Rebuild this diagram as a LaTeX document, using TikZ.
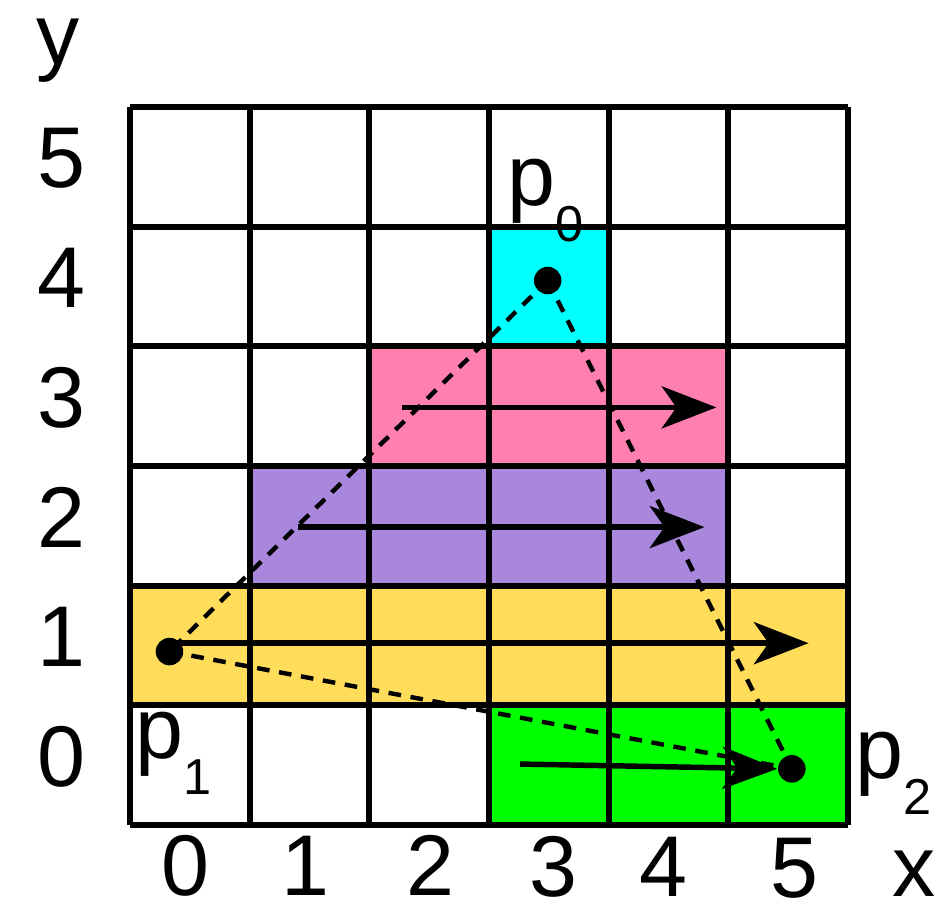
\documentclass[tikz,border=0pt]{standalone}
\usepackage{fontspec}
\setmainfont{Liberation Sans}
\usepackage{tikz}
\usetikzlibrary{arrows.meta, positioning}
\definecolor{cellcyan}{RGB}{0,255,255}
\definecolor{cellpink}{RGB}{255,128,176}
\definecolor{cellpurple}{RGB}{168,135,221}
\definecolor{cellyellow}{RGB}{255,220,90}
\definecolor{cellgreen}{RGB}{0,255,0}
\newcommand{\bigtxt}{\fontsize{20.5}{24}\selectfont}
\newcommand{\ptlabel}[1]{p\raisebox{-0.42em}{\fontsize{12}{12}\selectfont #1}}
\tikzset{
  gridline/.style={line width=1.45pt, color=black},
  scanarrow/.style={-{Stealth[length=13pt, width=10pt, inset=3.5pt]}, line width=1.3pt},
  edge/.style={dash pattern=on 3pt off 2.3pt, line width=1.05pt},
  vertex/.style={circle, fill=black, inner sep=0pt, minimum size=0.23cm},
  axlabel/.style={font=\bigtxt, inner sep=0pt},
  plabel/.style={font=\bigtxt, inner sep=0pt}
}
\begin{document}
\begin{tikzpicture}
  \useasboundingbox (-1.086,-0.702) rectangle (6.810,6.894);

  % Covered cells
  \fill[cellcyan] (3,4) rectangle ++(1,1);
  \fill[cellpink] (2,3) rectangle ++(3,1);
  \fill[cellpurple] (1,2) rectangle ++(4,1);
  \fill[cellyellow] (0,1) rectangle ++(6,1);
  \fill[cellgreen] (3,0) rectangle ++(3,1);

  % Grid
  \draw[gridline] (0,0) grid (6,6);

  % Axis labels
  \foreach \r in {0,...,5}
    \node[axlabel] (ylab\r) at (-0.57,\r+0.57) {\r};
  \node[axlabel] (ylabel) at (-0.6,6.47) {y};
  \node[axlabel] (xlab0) at (0.46,-0.34) {0};
  \node[axlabel] (xlab1) at (1.47,-0.34) {1};
  \node[axlabel] (xlab2) at (2.51,-0.34) {2};
  \node[axlabel] (xlab3) at (3.54,-0.35) {3};
  \node[axlabel] (xlab4) at (4.46,-0.35) {4};
  \node[axlabel] (xlab5) at (5.55,-0.36) {5};
  \node[axlabel] (xlabel) at (6.55,-0.41) {x};

  % Vertices
  \node[vertex] (p0) at (3.49,4.55) {};
  \node[vertex] (p1) at (0.33,1.45) {};
  \node[vertex] (p2) at (5.53,0.47) {};
  \node[plabel] (p0lab) at (3.47,5.22) {\ptlabel{0}};
  \node[plabel] (p1lab) at (0.36,0.60) {\ptlabel{1}};
  \node[plabel] (p2lab) at (6.38,0.43) {\ptlabel{2}};

  % Scanline spans
  \coordinate (s3) at (2.27,3.49);
  \coordinate (e3) at (4.9,3.49);
  \coordinate (s2) at (1.40,2.49);
  \coordinate (e2) at (4.8,2.49);
  \coordinate (e1) at (5.67,1.52);
  \coordinate (s0) at (3.26,0.51);
  \draw[scanarrow] (s3) -- (e3);
  \draw[scanarrow] (s2) -- (e2);
  \draw[scanarrow] (p1.center |- e1) -- (e1);
  \draw[scanarrow] (s0) -- (p2.west);

  % Triangle edges
  \draw[edge] (p0.center) -- (p1.center);
  \draw[edge] (p0.center) -- (p2.center);
  \draw[edge] (p1.center) -- (p2.center);
\end{tikzpicture}
\end{document}
